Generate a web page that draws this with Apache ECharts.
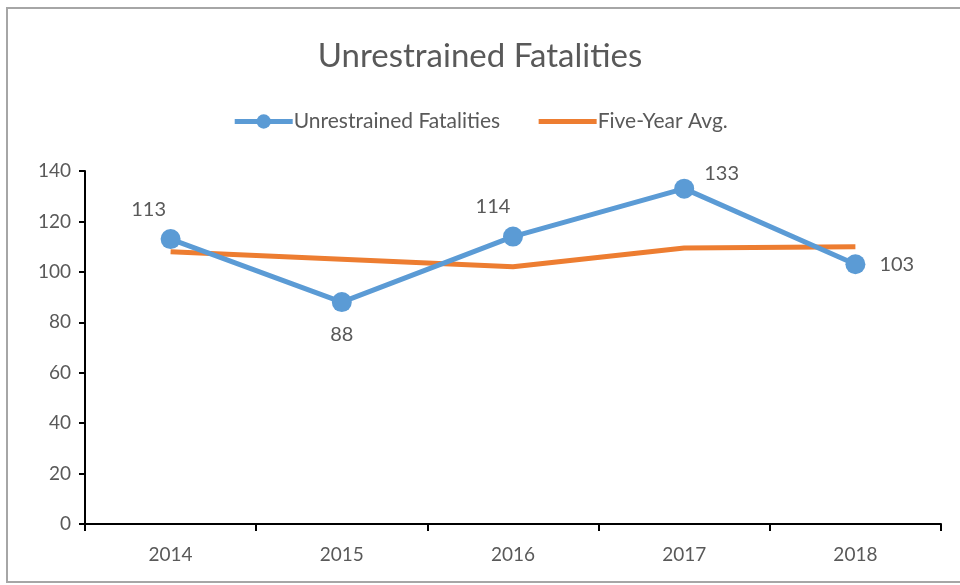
<!DOCTYPE html>
<html>
<head>
<meta charset="utf-8">
<script src="https://cdn.jsdelivr.net/npm/echarts@6/dist/echarts.min.js"></script>
<style>
    html, body { margin: 0; padding: 0; background: #fff; }
    #chart { width: 960px; height: 585px; }
</style>
</head>
<body>
<div id="chart"></div>
<script>
    // data
    var years = ['2014', '2015', '2016', '2017', '2018'];
    var fatalities = [113, 88, 114, 133, 103];
    var fiveYearAvg = [108, 105, 102, 109.5, 110];
    // where each data label sits relative to its point
    var labelPos = ['top', 'bottom', 'top', 'right', 'right'];
    var labelOffset = [[-22, 0], [0, 2], [-20, 0], [0, -15], [4, 0]];

    var textColor = '#595959';
    var font = 'Lato';

    var chart = echarts.init(document.getElementById('chart'));

    var option = {
        backgroundColor: '#fff',
        textStyle: { fontFamily: font },
        graphic: [{
            type: 'rect',
            shape: { x: 7, y: 8, width: 960, height: 574 },
            style: { fill: 'none', stroke: '#a6a6a6', lineWidth: 2 },
            silent: true
        }],
        title: {
            text: 'Unrestrained Fatalities',
            left: 'center',
            top: 35,
            textStyle: { fontFamily: font, fontSize: 33, fontWeight: 'normal', color: textColor }
        },
        legend: {
            top: 106,
            left: 'center',
            itemWidth: 58,
            itemHeight: 18,
            itemGap: 36,
            lineStyle: { width: 5 },
            textStyle: { fontFamily: font, fontSize: 21, color: textColor, padding: [0, 0, 0, -4] },
            data: [
                { name: 'Unrestrained Fatalities' },
                // average line has no marker, so hide the legend dot
                { name: 'Five-Year Avg.', itemStyle: { color: 'rgba(0,0,0,0)' } }
            ]
        },
        grid: { left: 85, right: 19, top: 171, bottom: 61 },
        xAxis: {
            type: 'category',
            data: years,
            boundaryGap: true,
            axisLine: { lineStyle: { color: '#000', width: 2 } },
            axisTick: { show: true, length: 7, lineStyle: { color: '#000', width: 2 } },
            axisLabel: { fontFamily: font, fontSize: 19, color: textColor, margin: 21 }
        },
        yAxis: {
            type: 'value',
            min: 0,
            max: 140,
            interval: 20,
            axisLine: { show: true, lineStyle: { color: '#000', width: 2 } },
            axisTick: { show: true, length: 6, lineStyle: { color: '#000', width: 2 } },
            splitLine: { show: false },
            axisLabel: { fontFamily: font, fontSize: 19, color: textColor, margin: 14 }
        },
        series: [{
            name: 'Unrestrained Fatalities',
            type: 'line',
            data: fatalities.map(function (v, i) {
                return {
                    value: v,
                    label: { position: labelPos[i], offset: labelOffset[i] }
                };
            }),
            symbol: 'circle',
            symbolSize: 20,
            itemStyle: { color: '#5B9BD5' },
            lineStyle: { color: '#5B9BD5', width: 5 },
            label: {
                show: true,
                fontFamily: font,
                fontSize: 20,
                color: textColor,
                distance: 10
            },
            z: 3
        }, {
            name: 'Five-Year Avg.',
            type: 'line',
            data: fiveYearAvg,
            symbol: 'none',
            itemStyle: { color: '#ED7D31' },
            lineStyle: { color: '#ED7D31', width: 5 },
            z: 2
        }]
    };

    chart.setOption(option);
</script>
</body>
</html>
